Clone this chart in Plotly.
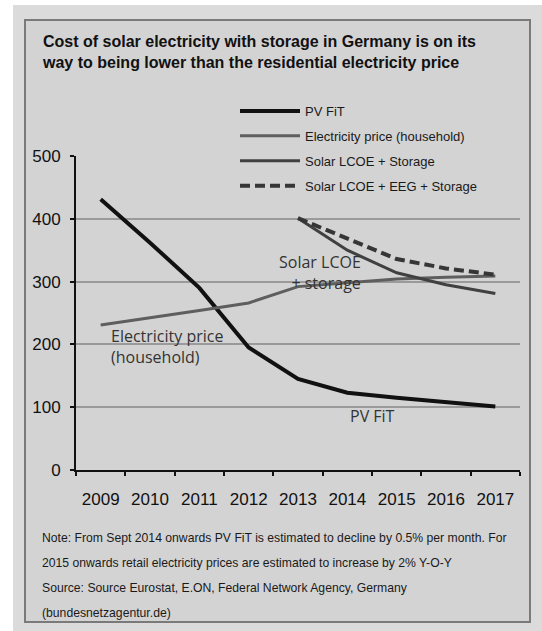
import plotly.graph_objects as go

years = ["2009", "2010", "2011", "2012", "2013", "2014", "2015", "2016", "2017"]
pv_fit = [431, 362, 290, 195, 145, 123, 115, 108, 101]
elec_price = [231, 242, 254, 266, 292, 298, 304, 307, 309]
lcoe_years = ["2013", "2014", "2015", "2016", "2017"]
lcoe_storage = [401, 350, 314, 295, 281]
lcoe_eeg_storage = [401, 368, 336, 321, 311]
y_ticks = [0, 100, 200, 300, 400, 500]

NARROW = "Liberation Sans, Arial, sans-serif"
LIGHT = "Open Sans, Lato, sans-serif"

W, H = 542, 631
ML, MR, MT, MB = 76, 22, 156, 161
PW, PH = W - ML - MR, H - MT - MB

def px(x):
    return (x - ML) / PW

def py(y):
    return (H - MB - y) / PH

fig = go.Figure()
fig.add_trace(go.Scatter(x=years, y=pv_fit, mode="lines", name="PV FiT",
                         line=dict(color="#111111", width=4), legendgroup="a"))
fig.add_trace(go.Scatter(x=years, y=elec_price, mode="lines", name="Electricity price (household)",
                         line=dict(color="#5e5e5e", width=3), legendgroup="b"))
fig.add_trace(go.Scatter(x=lcoe_years, y=lcoe_storage, mode="lines", name="Solar LCOE + Storage",
                         line=dict(color="#404040", width=3), legendgroup="c"))
fig.add_trace(go.Scatter(x=lcoe_years, y=lcoe_eeg_storage, mode="lines", name="Solar LCOE + EEG + Storage",
                         line=dict(color="#363636", width=4, dash="10px,5px"), legendgroup="d"))

shapes = [
    dict(type="rect", xref="paper", yref="paper", x0=px(13), x1=px(542), y0=py(631), y1=py(5),
         fillcolor="#dbdbdb", line=dict(width=0), layer="below"),
    dict(type="rect", xref="paper", yref="paper", x0=px(25), x1=px(530), y0=py(622), y1=py(20),
         fillcolor="#d3d3d3", line=dict(color="#7a7a7a", width=2), layer="below"),
]

annotations = [
    dict(xref="paper", yref="paper", x=px(40), y=py(52), xanchor="left", yanchor="middle",
         align="left", showarrow=False,
         text="<b>Cost of solar electricity with storage in Germany is on its<br>way to being lower than the residential electricity price</b>",
         font=dict(family=NARROW, size=16, color="#111111")),
    dict(x=5.32, y=315, xref="x", yref="y", xanchor="right", yanchor="middle", align="right",
         showarrow=False, text="Solar LCOE<br>+ storage",
         font=dict(family=LIGHT, size=16, color="#333333")),
    dict(x=0.17, y=197, xref="x", yref="y", xanchor="left", yanchor="middle", align="left",
         showarrow=False, text="Electricity price<br>(household)",
         font=dict(family=LIGHT, size=16, color="#333333")),
    dict(x=5.01, y=86, xref="x", yref="y", xanchor="left", yanchor="middle", align="left",
         showarrow=False, text="PV FiT",
         font=dict(family=LIGHT, size=16, color="#333333")),
]
notes = [
    "Note: From Sept 2014 onwards PV FiT is estimated to decline by 0.5% per month. For",
    "2015 onwards retail electricity prices are estimated to increase by 2% Y-O-Y",
    "Source: Source Eurostat, E.ON, Federal Network Agency, Germany",
    "(bundesnetzagentur.de)",
]
for i, t in enumerate(notes):
    annotations.append(dict(xref="paper", yref="paper", x=px(40), y=py(538 + i * 25),
                            xanchor="left", yanchor="middle", showarrow=False, text=t,
                            font=dict(family=NARROW, size=12.2, color="#1a1a1a")))

fig.update_layout(
    width=W, height=H,
    margin=dict(l=ML, r=MR, t=MT, b=MB),
    paper_bgcolor="white",
    plot_bgcolor="rgba(0,0,0,0)",
    shapes=shapes,
    annotations=annotations,
    showlegend=True,
    legend=dict(x=px(235), y=py(96), xanchor="left", yanchor="top",
                bgcolor="rgba(0,0,0,0)", itemwidth=60, tracegroupgap=5,
                font=dict(family=NARROW, size=13, color="#1a1a1a")),
    xaxis=dict(type="category", categoryorder="array", categoryarray=years,
               range=[-0.5, 8.5], showgrid=False, showline=True, linecolor="#111111",
               linewidth=2, ticks="outside", tickson="boundaries", ticklen=4, tickwidth=2,
               tickcolor="#111111", ticklabelstandoff=13, tickangle=0,
               tickfont=dict(family=NARROW, size=17, color="#111111"), zeroline=False,
               fixedrange=True),
    yaxis=dict(range=[0, 500], tickvals=y_ticks, showgrid=True, gridcolor="#9a9a9a", gridwidth=1.5,
               showline=True, linecolor="#111111", linewidth=2, ticks="outside", ticklen=4,
               tickwidth=2, tickcolor="#111111", ticklabelstandoff=6,
               tickfont=dict(family=NARROW, size=17, color="#111111"), zeroline=False,
               fixedrange=True),
)

fig.write_html("out.html", config={"displayModeBar": False})
